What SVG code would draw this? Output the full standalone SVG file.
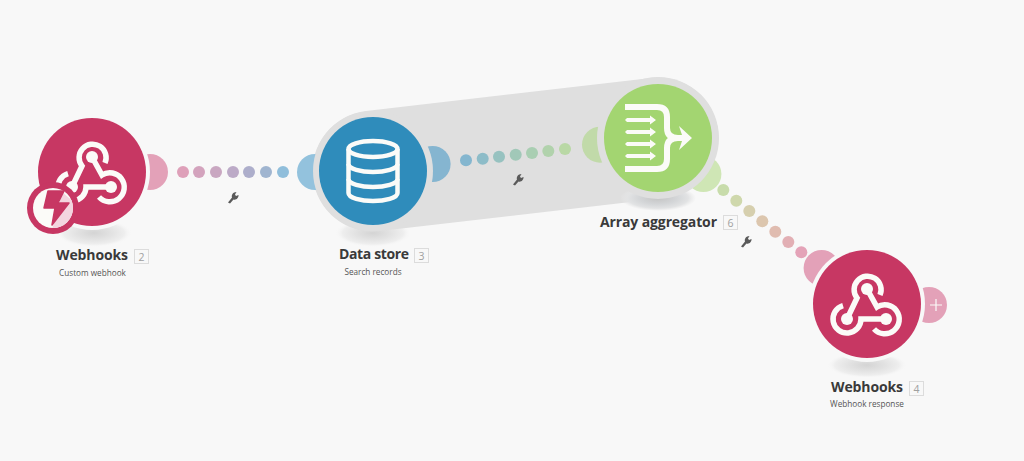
<svg xmlns="http://www.w3.org/2000/svg" width="1024" height="461" viewBox="0 0 1024 461">
<style>
.t{font-family:"Open Sans","Noto Sans",sans-serif;font-weight:700;font-size:14px;fill:#3a3a3a}
.s{font-family:"Open Sans","Noto Sans",sans-serif;font-size:8.2px;fill:#555;text-anchor:middle}
.b{fill:#f8f8f8;stroke:#dcdcdc;stroke-width:1}
.n{font-family:"Open Sans","Noto Sans",sans-serif;font-size:10.5px;fill:#a0a0a0;text-anchor:middle}
.ws{fill:none;stroke:#fbfbf8;stroke-width:5.5}
.wf{fill:#fbfbf8}
.w{fill:#5a5a5a}
</style>
<defs>
<radialGradient id="sh"><stop offset="0" stop-color="#d4d4d4"/><stop offset=".45" stop-color="#e2e2e2"/><stop offset=".8" stop-color="#eeeeee"/><stop offset="1" stop-color="#f8f8f8" stop-opacity="0"/></radialGradient>
<radialGradient id="sh2"><stop offset="0" stop-color="#c4c4c4"/><stop offset=".5" stop-color="#d4d6d8"/><stop offset=".8" stop-color="#e2e3e4"/><stop offset="1" stop-color="#e8e8e8" stop-opacity="0"/></radialGradient>
<clipPath id="inner"><circle cx="53" cy="208" r="20"/></clipPath>
<g id="hook">
<path class="ws" d="M13,-9A13.500,13.500 0 1 0 -10,-6L-20,15"/>
<path class="ws" d="M0,-15L10,3A14.500,14.500 0 1 1 7,25"/>
<path class="ws" d="M19,15H-6A14,14 0 1 1 -24,1.600"/>
<circle class="wf" cx="0" cy="-15" r="6"/><circle class="wf" cx="-20" cy="15" r="6"/><circle class="wf" cx="19" cy="15" r="6"/>
</g>
<path id="wr" class="w" d="M-5,5.500L-1,0.500C-1.800,-2 0,-5 3.500,-5L2,-2.500L3,-1L5.500,-2C5.800,1 3,3.500 0.500,2.500L-3,6.500Z"/>
</defs>
<rect width="1024" height="461" fill="#f8f8f8"/>
<g id="shadows">
<ellipse cx="94" cy="233" rx="38" ry="14" fill="url(#sh)"/>
<ellipse cx="373" cy="233" rx="38" ry="14" fill="url(#sh)"/>
<ellipse cx="867" cy="365" rx="40" ry="13" fill="url(#sh)"/>
</g>
<g id="band"><line x1="373" y1="171" x2="658" y2="138" stroke="#dfdfdf" stroke-width="121" stroke-linecap="round"/></g>
<ellipse cx="658" cy="198" rx="38" ry="13" fill="url(#sh2)"/>
<g id="connectors">
<g id="link-1">
<circle cx="183" cy="172" r="6" fill="#dea0b9"/><circle cx="199" cy="172" r="6" fill="#d3a3bd"/><circle cx="216" cy="172" r="6" fill="#c9a7c1"/><circle cx="233" cy="172" r="6" fill="#bcaac7"/><circle cx="249" cy="172" r="6" fill="#adaecb"/><circle cx="266" cy="172" r="6" fill="#a0b5d0"/><circle cx="283" cy="172" r="6" fill="#90bedb"/>
<use href="#wr" x="233" y="197"/>
</g>
<g id="link-2">
<circle cx="466" cy="160.300" r="6" fill="#84b6cf"/><circle cx="482.700" cy="158.700" r="6" fill="#8dbcc8"/><circle cx="499" cy="156.700" r="6" fill="#97c2c0"/><circle cx="515.700" cy="154.700" r="6" fill="#a1c8b8"/><circle cx="532" cy="153" r="6" fill="#a9ceb2"/><circle cx="548.300" cy="151" r="6" fill="#b1d2ac"/><circle cx="565" cy="149" r="6" fill="#b9d8a5"/>
<use href="#wr" x="518" y="179"/>
</g>
<g id="link-3">
<circle cx="723.300" cy="190" r="6" fill="#c8dcab"/><circle cx="736.300" cy="200.700" r="6" fill="#cfd8ac"/><circle cx="749.300" cy="211" r="6" fill="#d6cfae"/><circle cx="762.300" cy="221.300" r="6" fill="#dcc6ae"/><circle cx="775.300" cy="231.700" r="6" fill="#e0bcb0"/><circle cx="788.300" cy="242" r="6" fill="#e2afb4"/><circle cx="801.300" cy="252.300" r="6" fill="#e4a3b8"/>
<use href="#wr" x="746" y="241"/>
</g>
</g>
<g id="node-webhooks-2">
<circle cx="150" cy="172" r="18" fill="#e3a1b8"/>
<circle cx="92" cy="172" r="58" fill="#f8f8f8"/>
<circle cx="92" cy="172" r="54" fill="#c73763"/>
<use href="#hook" x="92" y="172"/>
<circle cx="53" cy="208" r="26" fill="#c73763"/>
<circle cx="53" cy="208" r="20" fill="#fbfbf8"/>
<path clip-path="url(#inner)" fill="#f3d5df" d="M60,190L76,204L76,222L64,230L52,229L60,205Z"/>
<path fill="#c73763" stroke="#c73763" stroke-width="1.500" stroke-linejoin="round" d="M48,191H64L58,203H69L52,225L55,208H44Z"/>
<text class="t" x="56" y="260" textLength="72">Webhooks</text>
<rect class="b" x="134.500" y="249.500" width="14" height="14"/>
<text class="n" x="141.500" y="260.500">2</text>
<text class="s" x="92.500" y="276">Custom webhook</text>
</g>
<g id="node-data-store-3">
<circle cx="315" cy="172" r="18" fill="#93c2dd"/>
<circle cx="432.600" cy="164" r="18" fill="#85b5d0"/>
<circle cx="373" cy="171" r="60" fill="#dfdfdf"/>
<circle cx="373" cy="171" r="54" fill="#2f8cbb"/>
<g transform="translate(373,171)" fill="none" stroke="#fbfbf8" stroke-width="4.500">
<ellipse cx="0" cy="-22" rx="24.500" ry="8"/>
<path d="M-24.500,-22V22C-24.500,27 -12,30 0,30C12,30 24.500,27 24.500,22V-22"/>
<path d="M-24.500,-7C-24.500,-2 -12,1 0,1C12,1 24.500,-2 24.500,-7"/>
<path d="M-24.500,8C-24.500,13 -12,16 0,16C12,16 24.500,13 24.500,8"/>
</g>
<text class="t" x="339" y="259" textLength="70">Data store</text>
<rect class="b" x="414.500" y="248.500" width="14" height="14"/>
<text class="n" x="421.500" y="259.500">3</text>
<text class="s" x="373" y="275">Search records</text>
</g>
<g id="node-array-aggregator-6">
<circle cx="600" cy="144.700" r="18" fill="#c1daa9"/>
<circle cx="703.400" cy="174" r="18" fill="#cfe6b5"/>
<circle cx="658" cy="138" r="61" fill="#dfdfdf"/>
<circle cx="658" cy="138" r="54" fill="#a3d571"/>
<g transform="translate(658,138)">
<path fill="none" stroke="#fbfbf8" stroke-width="6" d="M-33,-31H-1Q9,-31 9,-21V-10Q9,0 20,0H27M-33,31H-1Q9,31 9,21V10Q9,0 20,0"/>
<path class="wf" d="M34,0L21,12L25,0L21,-12Z"/>
<path fill="none" stroke="#fbfbf8" stroke-width="4" d="M-31,-18H-8M-31,-6H-8M-31,6H-8M-31,18H-8"/>
<path class="wf" d="M-2,-18L-8,-22.500V-13.500ZM-2,-6L-8,-10.500V-1.500ZM-2,6L-8,1.500V10.500ZM-2,18L-8,13.500V22.500ZM-33,-18L-31,-20V-16ZM-33,-6L-31,-8V-4ZM-33,6L-31,4V8ZM-33,18L-31,16V20Z"/>
</g>
<text class="t" x="600" y="227" textLength="117">Array aggregator</text>
<rect class="b" x="723.500" y="215.500" width="14" height="14"/>
<text class="n" x="730.500" y="226.500">6</text>
</g>
<g id="node-webhooks-4">
<circle cx="821.600" cy="268" r="18" fill="#e3a1b8"/>
<circle cx="929" cy="305" r="18" fill="#e3a1b8"/>
<circle cx="867" cy="304" r="58" fill="#f8f8f8"/>
<circle cx="867" cy="304" r="54" fill="#c73763"/>
<use href="#hook" x="867" y="304"/>
<path stroke="#fbfbf8" stroke-width="1.200" d="M936,299V311M930,305H942"/>
<text class="t" x="831" y="392" textLength="72">Webhooks</text>
<rect class="b" x="909.500" y="381.500" width="14" height="14"/>
<text class="n" x="916.500" y="392.500">4</text>
<text class="s" x="867" y="407">Webhook response</text>
</g>
</svg>
